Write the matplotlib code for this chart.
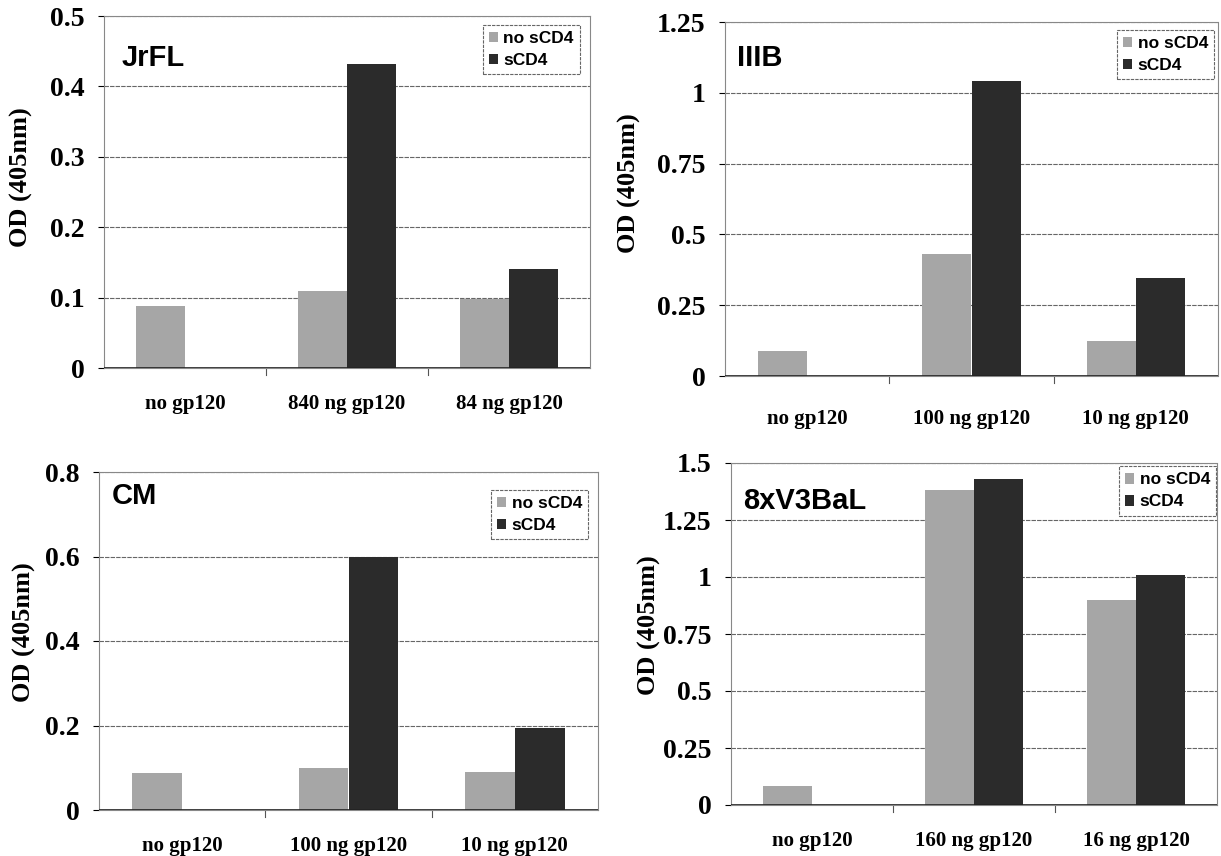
"""OD405 binding of gp120 variants, with / without sCD4"""
import numpy as np
import matplotlib
matplotlib.use("Agg")
import matplotlib.pyplot as plt

W, H = 1221, 856

# ---- data ----
jrfl_cats  = ["no gp120", "840 ng gp120", "84 ng gp120"]
jrfl_no    = [0.088, 0.110, 0.098]
jrfl_sc    = [0.0, 0.432, 0.140]

iiib_cats  = ["no gp120", "100 ng gp120", "10 ng gp120"]
iiib_no    = [0.088, 0.430, 0.125]
iiib_sc    = [0.0, 1.040, 0.345]

cm_cats    = ["no gp120", "100 ng gp120", "10 ng gp120"]
cm_no      = [0.088, 0.100, 0.090]
cm_sc      = [0.0, 0.598, 0.195]

bal_cats   = ["no gp120", "160 ng gp120", "16 ng gp120"]
bal_no     = [0.085, 1.380, 0.900]
bal_sc     = [0.0, 1.430, 1.010]

jrfl_ticks = [0, 0.1, 0.2, 0.3, 0.4, 0.5]
iiib_ticks = [0, 0.25, 0.5, 0.75, 1, 1.25]
cm_ticks   = [0, 0.2, 0.4, 0.6, 0.8]
bal_ticks  = [0, 0.25, 0.5, 0.75, 1, 1.25, 1.5]

LIGHT = "#a6a6a6"
DARK  = "#2b2b2b"
SERIF = "Liberation Serif"
SANS  = "Liberation Sans"


def rect(x0, y0, x1, y1):
    # pixel box -> figure fraction
    return [x0 / W, (H - y1) / H, (x1 - x0) / W, (y1 - y0) / H]


def panel(fig, box, name, cats, no, sc, ticks, title_xy, ylab_xy, leg_xy, xpad):
    ax = fig.add_axes(rect(*box))
    x = np.arange(len(cats))
    bw = 0.30
    ax.bar(x - bw / 2, no, bw, color=LIGHT, label="no sCD4", zorder=3)
    ax.bar(x + bw / 2, sc, bw, color=DARK, label="sCD4", zorder=3)
    ax.set_xlim(-0.5, len(cats) - 0.5)
    ax.set_ylim(0, ticks[-1])
    ax.set_yticks(ticks)
    ax.set_yticklabels([f"{t:g}" for t in ticks], fontfamily=SERIF,
                       fontweight="bold", fontsize=20)
    ax.set_xticks(x)
    ax.set_xticklabels(cats, fontfamily=SERIF, fontweight="bold", fontsize=15)
    ax.tick_params(axis="x", length=0, pad=xpad)
    ax.tick_params(axis="y", length=4, width=0.8, pad=10)
    for b in [0.5, 1.5]:
        ax.plot([b, b], [0, -0.02], transform=ax.get_xaxis_transform(),
                color="#555", lw=0.8, clip_on=False)
    ax.yaxis.grid(True, color="#666", lw=0.8, ls=(0, (4, 1)), zorder=0)
    for s in ax.spines.values():
        s.set_color("#888"); s.set_linestyle((0, (3, 1))); s.set_linewidth(0.8)
    ax.axhline(0, color="#222", lw=1.2, zorder=4)
    ax.text(*ylab_xy, "OD (405nm)", transform=ax.transAxes, rotation=90,
            fontfamily=SERIF, fontweight="bold", fontsize=19,
            ha="center", va="center")
    ax.text(*title_xy, name, transform=ax.transAxes, fontfamily=SANS,
            fontweight="bold", fontsize=21, va="center", ha="left")
    leg = ax.legend(loc="upper right", bbox_to_anchor=leg_xy,
                    prop={"family": SANS, "weight": "bold", "size": 12.5},
                    fancybox=False, handlelength=0.55, handleheight=0.55,
                    handletextpad=0.3, borderpad=0.35, labelspacing=0.4,
                    borderaxespad=0, framealpha=1)
    leg.get_frame().set_edgecolor("#666")
    leg.get_frame().set_linestyle((0, (3, 1)))
    leg.get_frame().set_linewidth(0.8)
    return ax


fig = plt.figure(figsize=(W / 100, H / 100), dpi=100)
panel(fig, (104, 16, 590, 368), "JrFL", jrfl_cats, jrfl_no, jrfl_sc, jrfl_ticks,
      (0.037, 0.88), (-0.169, 0.543), (0.979, 0.974), 19)
panel(fig, (725, 22, 1218, 376), "IIIB", iiib_cats, iiib_no, iiib_sc, iiib_ticks,
      (0.024, 0.898), (-0.193, 0.545), (0.992, 0.977), 24)
panel(fig, (99, 472, 598, 810), "CM", cm_cats, cm_no, cm_sc, cm_ticks,
      (0.026, 0.929), (-0.150, 0.527), (0.98, 0.947), 19)
panel(fig, (731, 463, 1217, 805), "8xV3BaL", bal_cats, bal_no, bal_sc, bal_ticks,
      (0.025, 0.889), (-0.167, 0.526), (0.998, 0.99), 19)
fig.savefig("out.png", dpi=100)
